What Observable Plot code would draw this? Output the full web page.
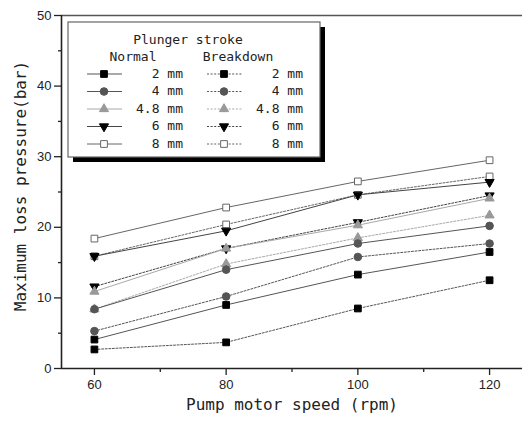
<!DOCTYPE html>
<html>
<head>
<meta charset="utf-8">
<script src="https://cdn.jsdelivr.net/npm/d3@7"></script>
<script src="https://cdn.jsdelivr.net/npm/@observablehq/plot@0.6"></script>
<style>
  html, body { margin: 0; padding: 0; background: #fff; }
  #chart { position: relative; width: 522px; height: 424px; }
</style>
</head>
<body>
<div id="chart"></div>
<script>
const speeds = [60, 80, 100, 120];
const minorSpeeds = [70, 90, 110];
const yTicks = [0, 10, 20, 30, 40, 50];
const yMinor = [5, 15, 25, 35, 45];
const strokes = ["2 mm", "4 mm", "4.8 mm", "6 mm", "8 mm"];

const normal2mm = [4.1, 9.0, 13.3, 16.5];
const normal4mm = [8.4, 14.0, 17.7, 20.2];
const normal48mm = [10.9, 17.0, 20.3, 24.1];
const normal6mm = [15.9, 19.5, 24.6, 26.4];
const normal8mm = [18.4, 22.8, 26.5, 29.5];

const breakdown2mm = [2.7, 3.7, 8.5, 12.5];
const breakdown4mm = [5.3, 10.2, 15.8, 17.7];
const breakdown48mm = [8.4, 14.8, 18.5, 21.7];
const breakdown6mm = [11.6, 17.0, 20.7, 24.5];
const breakdown8mm = [15.9, 20.4, 24.6, 27.2];

const legendTitle = "Plunger stroke";
const conditionNames = ["Normal", "Breakdown"];
const xLabel = "Pump motor speed (rpm)";
const yLabel = "Maximum loss pressure(bar)";

const triangleDown = {
  draw(ctx, size) {
    const y = -Math.sqrt(size / (Math.sqrt(3) * 3));
    ctx.moveTo(0, -y * 2);
    ctx.lineTo(-Math.sqrt(3) * y, y);
    ctx.lineTo(Math.sqrt(3) * y, y);
    ctx.closePath();
  }
};

// styles per stroke
const styles = [
  {symbol: d3.symbolSquare, r: 3.8, fill: "#000", stroke: "#000", line: "#555"},
  {symbol: d3.symbolCircle, r: 3.8, fill: "#555", stroke: "#555", line: "#555"},
  {symbol: d3.symbolTriangle, r: 3.4, fill: "#999", stroke: "#999", line: "#a8a8a8"},
  {symbol: triangleDown, r: 3.4, fill: "#000", stroke: "#000", line: "#444"},
  {symbol: d3.symbolSquare, r: 3.8, fill: "#fff", stroke: "#666", line: "#666"}
];

const normalSeries = [normal2mm, normal4mm, normal48mm, normal6mm, normal8mm];
const breakdownSeries = [breakdown2mm, breakdown4mm, breakdown48mm, breakdown6mm, breakdown8mm];

function rows(values, i, cond) {
  return values.map((v, j) => ({speed: speeds[j], value: v, stroke: strokes[i], cond}));
}

const lineMarks = [];
const dotMarks = [];
[4, 3, 2, 1, 0].forEach(i => {
  [["Normal", normalSeries], ["Breakdown", breakdownSeries]].forEach(([cond, series]) => {
    const s = styles[i];
    const data = rows(series[i], i, cond);
    lineMarks.push(Plot.line(data, {
      x: "speed", y: "value", stroke: s.line, strokeWidth: 1,
      strokeDasharray: cond === "Breakdown" ? "2,1.6" : null
    }));
    dotMarks.push(Plot.dot(data, {
      x: "speed", y: "value", symbol: s.symbol, r: s.r,
      fill: s.fill, stroke: s.stroke, strokeWidth: 1
    }));
  });
});

const plot = Plot.plot({
  width: 522,
  height: 424,
  marginLeft: 61,
  marginRight: 0,
  marginTop: 15,
  marginBottom: 56,
  style: {fontFamily: "Liberation Sans, Arial, sans-serif", fontSize: "13px", background: "#fff", color: "#222"},
  x: {domain: [55, 125], label: null},
  y: {domain: [0, 50], label: null},
  marks: [
    ...lineMarks,
    ...dotMarks,
    Plot.axisX({ticks: speeds, tickSize: 7, tickPadding: 4, label: null, stroke: "#222", strokeWidth: 1.3, fontSize: 13}),
    Plot.axisX({ticks: minorSpeeds, tickSize: 4, tickFormat: () => "", label: null, stroke: "#222", strokeWidth: 1.3}),
    Plot.axisY({ticks: yTicks, tickSize: 7, tickPadding: 3, label: null, stroke: "#222", strokeWidth: 1.3, fontSize: 13}),
    Plot.axisY({ticks: yMinor, tickSize: 3, tickFormat: () => "", label: null, stroke: "#222", strokeWidth: 1.3}),
    Plot.ruleY([0], {stroke: "#222", strokeWidth: 1.6}),
    Plot.ruleY([50], {stroke: "#555", strokeWidth: 1.6}),
    Plot.ruleX([55], {stroke: "#222", strokeWidth: 1.6}),
    Plot.text([xLabel], {frameAnchor: "bottom", dy: 41, text: d => d, fontSize: 16, fontFamily: "DejaVu Sans Mono, monospace", fill: "#222"}),
    Plot.text([yLabel], {frameAnchor: "left", textAnchor: "middle", dx: -41, dy: -6, rotate: -90, text: d => d, fontSize: 16, fontFamily: "DejaVu Sans Mono, monospace", fill: "#222"})
  ]
});

document.getElementById("chart").appendChild(plot);

// Legend drawn inside the SVG
const svg = d3.select(plot);
const g = svg.append("g").attr("font-family", "DejaVu Sans Mono, monospace").attr("font-size", 13).attr("fill", "#222");
g.append("rect").attr("x", 73).attr("y", 27).attr("width", 252).attr("height", 135).attr("fill", "#000");
g.append("rect").attr("x", 68).attr("y", 22).attr("width", 252).attr("height", 135).attr("fill", "#fff").attr("stroke", "#666").attr("stroke-width", 1.2);
g.append("text").attr("x", 188).attr("y", 40).attr("text-anchor", "middle").attr("dominant-baseline", "middle").text(legendTitle);
g.append("text").attr("x", 133).attr("y", 57).attr("text-anchor", "middle").attr("dominant-baseline", "middle").text(conditionNames[0]);
g.append("text").attr("x", 238).attr("y", 57).attr("text-anchor", "middle").attr("dominant-baseline", "middle").text(conditionNames[1]);
const rowY = [74, 91.5, 109, 126.5, 144];
strokes.forEach((name, i) => {
  const s = styles[i];
  const y = rowY[i];
  [[87, 122, 104, 183, null], [207, 242, 224, 303, "2,1.6"]].forEach(([x1, x2, xm, xt, dash]) => {
    g.append("line").attr("x1", x1).attr("x2", x2).attr("y1", y).attr("y2", y)
      .attr("stroke", s.line).attr("stroke-width", 1).attr("stroke-dasharray", dash);
    g.append("path").attr("transform", `translate(${xm},${y})`)
      .attr("d", d3.symbol(s.symbol, Math.PI * s.r * s.r)())
      .attr("fill", s.fill).attr("stroke", s.stroke).attr("stroke-width", 1);
    g.append("text").attr("x", xt).attr("y", y).attr("text-anchor", "end").attr("dominant-baseline", "middle").text(name);
  });
});
</script>
</body>
</html>
